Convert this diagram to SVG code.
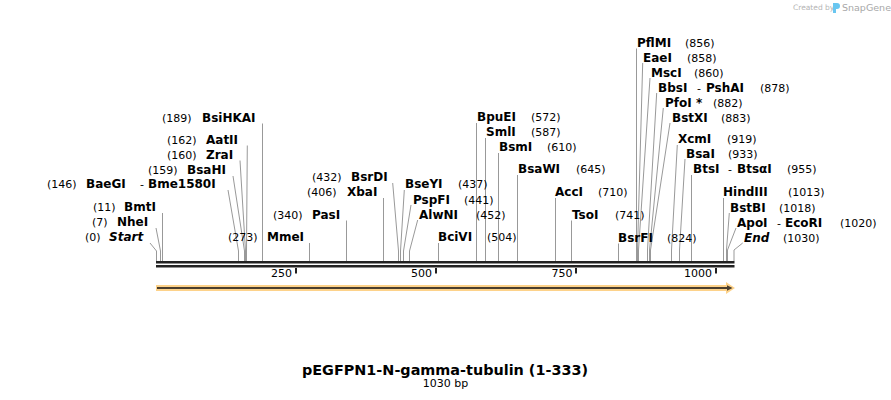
<svg xmlns="http://www.w3.org/2000/svg" width="891" height="400" viewBox="0 0 891 400">
<style>
text{font-family:"DejaVu Sans","Verdana",sans-serif;fill:#000}
.n{font-size:11px}
.e{font-size:12px;font-weight:bold}
.i{font-style:italic}
.c line,.c polyline{stroke:#999;stroke-width:1;fill:none}
.t{font-size:14.4px;font-weight:bold}
</style>
<rect width="891" height="400" fill="#fff"/>
<g id="logo">
<text x="793" y="10" style="font-size:7.5px;fill:#b4b4b4">Created by</text>
<path d="M833 3 h4 a3 3 0 0 1 0 6 h-1 v4 h-3 z" fill="#69c6f0"/>
<text x="842" y="10.5" style="font-size:9.5px;fill:#a8a8a8">SnapGene</text>
</g>
<g id="connectors" class="c">
<polyline points="150,243 156.5,251 156.5,261"/>
<polyline points="156,228 160.5,251 160.5,261"/>
<polyline points="162.5,213 162.5,261"/>
<polyline points="228,190 238.5,251 238.5,261"/>
<polyline points="233,176 244.5,251 244.5,261"/>
<polyline points="240,160.5 245.5,251 245.5,261"/>
<polyline points="247.3,145.5 246.5,251 246.5,261"/>
<polyline points="262.5,123.5 262.5,261"/>
<polyline points="309.5,243 309.5,261"/>
<polyline points="346.5,220.5 346.5,261"/>
<polyline points="383.5,198 383.5,261"/>
<polyline points="392.7,183 398.5,251 398.5,261"/>
<polyline points="404.3,190 400.5,251 400.5,261"/>
<polyline points="411,205 403.5,251 403.5,261"/>
<polyline points="417.7,220 409.5,251 409.5,261"/>
<polyline points="438.5,243 438.5,261"/>
<polyline points="476.5,123 476.5,261"/>
<polyline points="485.5,138 485.5,261"/>
<polyline points="498.5,153 498.5,261"/>
<polyline points="517.5,175 517.5,261"/>
<polyline points="555.5,198 555.5,261"/>
<polyline points="571.5,220.5 571.5,261"/>
<polyline points="618.5,243.5 618.5,261"/>
<polyline points="636.5,48.5 636.5,261"/>
<polyline points="642.7,63 637.5,250 637.5,261"/>
<polyline points="650,78 638.5,250 638.5,261"/>
<polyline points="656.7,93 647.5,250 647.5,261"/>
<polyline points="663.3,108 649.5,250 649.5,261"/>
<polyline points="670,123 650.5,250 650.5,261"/>
<polyline points="677.3,145 671.5,250 671.5,261"/>
<polyline points="685,159 679.5,250 679.5,261"/>
<polyline points="691.5,175 691.5,261"/>
<polyline points="723.5,198 723.5,261"/>
<polyline points="729.3,213 726.5,250 726.5,261"/>
<polyline points="736,228 727.5,250 727.5,261"/>
<polyline points="742.7,243 734,250 734,261"/>
</g>
<g id="sequence">
<rect x="156" y="261" width="578.5" height="2.5" fill="#222"/>
<rect x="156" y="265" width="578.5" height="2.5" fill="#222"/>
<g fill="#222">
<rect x="295" y="268" width="2" height="5.5"/>
<rect x="435" y="268" width="2" height="5.5"/>
<rect x="575" y="268" width="2" height="5.5"/>
<rect x="715" y="268" width="2" height="5.5"/>
</g>
<text class="n" x="292" y="277" text-anchor="end">250</text>
<text class="n" x="432" y="277" text-anchor="end">500</text>
<text class="n" x="572.5" y="277" text-anchor="end">750</text>
<text class="n" x="712" y="277" text-anchor="end">1000</text>
</g>
<g id="feature-arrow">
<path d="M156,285 H726 V282 L735,288 L726,294 V291 H156 Z" fill="#fdd28a"/>
<path d="M157,287 H727 V285.3 L732.5,288 L727,290.7 V289 H157 Z" fill="#4a3e2e"/>
</g>
<g id="site-Start"><text class="n" x="85" y="241">(0)</text><text class="e i" x="109" y="241">Start</text></g>
<g id="site-NheI"><text class="n" x="92" y="226">(7)</text><text class="e" x="117" y="226">NheI</text></g>
<g id="site-BmtI"><text class="n" x="93" y="211">(11)</text><text class="e" x="124" y="211">BmtI</text></g>
<g id="site-BaeGI"><text class="n" x="47" y="188">(146)</text><text class="e" x="86" y="188">BaeGI</text><text class="n" x="140" y="188">-</text><text class="e" x="148" y="188">Bme1580I</text></g>
<g id="site-BsaHI"><text class="n" x="148" y="173.5">(159)</text><text class="e" x="187" y="173.5">BsaHI</text></g>
<g id="site-ZraI"><text class="n" x="167" y="158.5">(160)</text><text class="e" x="206" y="158.5">ZraI</text></g>
<g id="site-AatII"><text class="n" x="167" y="143.5">(162)</text><text class="e" x="206" y="143.5">AatII</text></g>
<g id="site-BsiHKAI"><text class="n" x="162" y="121.5">(189)</text><text class="e" x="202" y="121.5">BsiHKAI</text></g>
<g id="site-MmeI"><text class="n" x="228" y="241">(273)</text><text class="e" x="267" y="241">MmeI</text></g>
<g id="site-PasI"><text class="n" x="273" y="218.5">(340)</text><text class="e" x="312" y="218.5">PasI</text></g>
<g id="site-XbaI"><text class="n" x="307" y="196">(406)</text><text class="e" x="347" y="196">XbaI</text></g>
<g id="site-BsrDI"><text class="n" x="312" y="181">(432)</text><text class="e" x="351" y="181">BsrDI</text></g>
<g id="site-BseYI"><text class="e" x="405" y="188">BseYI</text><text class="n" x="458" y="188">(437)</text></g>
<g id="site-PspFI"><text class="e" x="413" y="203.5">PspFI</text><text class="n" x="464" y="203.5">(441)</text></g>
<g id="site-AlwNI"><text class="e" x="419" y="218.5">AlwNI</text><text class="n" x="476" y="218.5">(452)</text></g>
<g id="site-BciVI"><text class="e" x="438" y="241">BciVI</text><text class="n" x="487" y="241">(504)</text></g>
<g id="site-BpuEI"><text class="e" x="477" y="121">BpuEI</text><text class="n" x="531" y="121">(572)</text></g>
<g id="site-SmlI"><text class="e" x="486" y="136">SmlI</text><text class="n" x="531" y="136">(587)</text></g>
<g id="site-BsmI"><text class="e" x="499" y="151">BsmI</text><text class="n" x="547" y="151">(610)</text></g>
<g id="site-BsaWI"><text class="e" x="518" y="173">BsaWI</text><text class="n" x="576" y="173">(645)</text></g>
<g id="site-AccI"><text class="e" x="555" y="196">AccI</text><text class="n" x="598" y="196">(710)</text></g>
<g id="site-TsoI"><text class="e" x="572" y="218.5">TsoI</text><text class="n" x="615" y="218.5">(741)</text></g>
<g id="site-BsrFI"><text class="e" x="618" y="241.5">BsrFI</text><text class="n" x="667" y="241.5">(824)</text></g>
<g id="site-PflMI"><text class="e" x="637" y="46.5">PflMI</text><text class="n" x="685" y="46.5">(856)</text></g>
<g id="site-EaeI"><text class="e" x="643" y="61.5">EaeI</text><text class="n" x="687" y="61.5">(858)</text></g>
<g id="site-MscI"><text class="e" x="651" y="76.5">MscI</text><text class="n" x="694" y="76.5">(860)</text></g>
<g id="site-BbsI"><text class="e" x="658" y="91.5">BbsI</text><text class="n" x="697" y="91.5">-</text><text class="e" x="706" y="91.5">PshAI</text><text class="n" x="760" y="91.5">(878)</text></g>
<g id="site-PfoI"><text class="e" x="665" y="106.5">PfoI *</text><text class="n" x="713" y="106.5">(882)</text></g>
<g id="site-BstXI"><text class="e" x="672" y="121.5">BstXI</text><text class="n" x="721" y="121.5">(883)</text></g>
<g id="site-XcmI"><text class="e" x="678" y="142.5">XcmI</text><text class="n" x="727" y="142.5">(919)</text></g>
<g id="site-BsaI"><text class="e" x="686" y="157.5">BsaI</text><text class="n" x="728" y="157.5">(933)</text></g>
<g id="site-BtsI"><text class="e" x="693" y="173">BtsI</text><text class="n" x="728" y="173">-</text><text class="e" x="737" y="173">BtsαI</text><text class="n" x="787" y="173">(955)</text></g>
<g id="site-HindIII"><text class="e" x="723" y="196">HindIII</text><text class="n" x="788" y="196">(1013)</text></g>
<g id="site-BstBI"><text class="e" x="730" y="211.5">BstBI</text><text class="n" x="779" y="211.5">(1018)</text></g>
<g id="site-ApoI"><text class="e" x="737" y="226.5">ApoI</text><text class="n" x="777" y="226.5">-</text><text class="e" x="785" y="226.5">EcoRI</text><text class="n" x="840" y="226.5">(1020)</text></g>
<g id="site-End"><text class="e i" x="744" y="241.5">End</text><text class="n" x="783" y="241.5">(1030)</text></g>
<g id="title">
<text class="t" x="445" y="374.5" text-anchor="middle">pEGFPN1-N-gamma-tubulin (1-333)</text>
<text class="n" x="445.5" y="387" text-anchor="middle">1030 bp</text>
</g>
</svg>
